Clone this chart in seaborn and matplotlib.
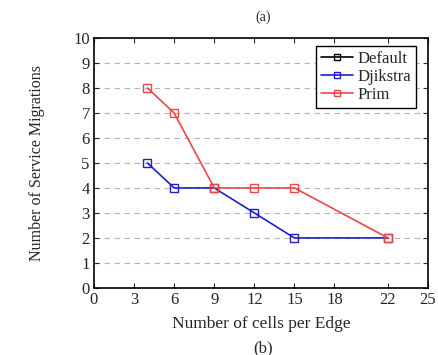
import pandas as pd
import matplotlib.pyplot as plt
import seaborn as sns

# values
cells = [4, 6, 9, 12, 15, 22]
djikstra = [5, 4, 4, 3, 2, 2]
prim = [8, 7, 4, 4, 4, 2]
xticks = [0, 3, 6, 9, 12, 15, 18, 22, 25]
yticks = list(range(0, 11))

df = pd.DataFrame({
    'cells': cells * 2,
    'migrations': djikstra + prim,
    'method': ['Djikstra'] * len(cells) + ['Prim'] * len(cells),
})

sns.set_theme(style='ticks')
plt.rcParams['font.family'] = ['Liberation Serif', 'DejaVu Serif']

fig = plt.figure(figsize=(4.39, 3.55), dpi=100)
ax = fig.add_axes([0.214, 0.189, 0.761, 0.704])

palette = {'Djikstra': '#1f1fc8', 'Prim': '#e8484a'}
sns.lineplot(data=df, x='cells', y='migrations', hue='method', palette=palette,
             marker='s', markersize=5.5, markerfacecolor='none', markeredgewidth=1.0,
             linewidth=1.2, ax=ax, legend=False)
# markers keep the line colour
for line, c in zip(ax.get_lines(), ['#1f1fc8', '#e8484a']):
    line.set_markeredgecolor(c)

# legend entries (Default has no visible points)
h0, = ax.plot([], [], color='black', marker='s', mfc='none', ms=5, lw=1.2, label='Default')
h1, = ax.plot([], [], color='#1f1fc8', marker='s', mfc='none', ms=5, lw=1.2, label='Djikstra')
h2, = ax.plot([], [], color='#e8484a', marker='s', mfc='none', ms=5, lw=1.2, label='Prim')
leg = ax.legend(handles=[h0, h1, h2], loc='upper right', bbox_to_anchor=(0.99, 1.0),
                fancybox=False, framealpha=1, edgecolor='black', fontsize=12,
                handlelength=1.9, handletextpad=0.3, borderpad=0.3, labelspacing=0.12)
leg.get_frame().set_linewidth(1.0)

ax.set_xlim(0, 25)
ax.set_ylim(0, 10)
ax.set_xticks(xticks)
ax.set_yticks(yticks)
for y in range(1, 10):
    ax.axhline(y, color='#b4b4b4', linestyle=(0, (5, 4)), linewidth=0.8, zorder=0)

ax.tick_params(direction='in', top=True, right=True, labelsize=12, length=3.5, width=0.8, pad=3)
for s in ax.spines.values():
    s.set_linewidth(1.2)
    s.set_color('black')

ax.set_xlabel('Number of cells per Edge', fontsize=12.5, labelpad=6)
ax.set_ylabel('Number of Service Migrations', fontsize=11.5, labelpad=20)
fig.text(0.6, 0.95, '(a)', ha='center', va='center', fontsize=10)
fig.text(0.6, 0.02, '(b)', ha='center', va='center', fontsize=12)

fig.savefig('out.png', dpi=100)
